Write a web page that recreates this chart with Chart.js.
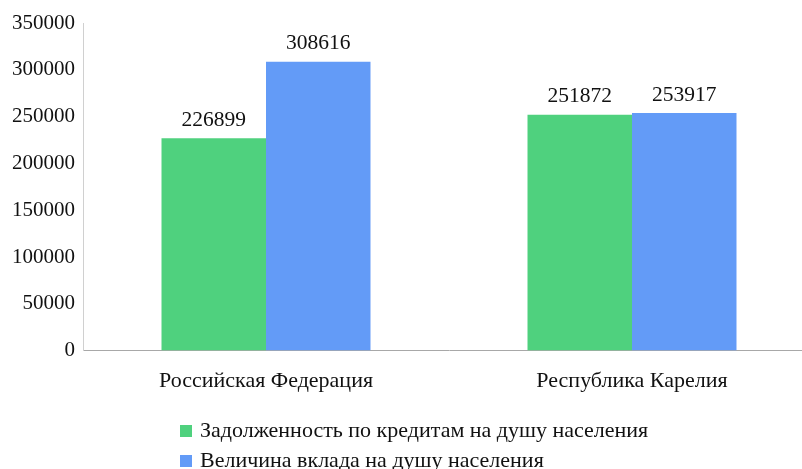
<!DOCTYPE html>
<html>
<head>
<meta charset="utf-8">
<script src="https://cdn.jsdelivr.net/npm/chart.js@4.4.0/dist/chart.umd.min.js"></script>
<style>
  html, body { margin: 0; padding: 0; background: #fff; overflow: hidden; }
  #wrap { width: 802px; height: 469px; overflow: hidden; }
</style>
</head>
<body>
<div id="wrap"><canvas id="barChart" width="820" height="469"></canvas></div>
<script>
// categories and series
var regions = ['Российская Федерация', 'Республика Карелия'];
var seriesNames = ['Задолженность по кредитам на душу населения', 'Величина вклада на душу населения'];
var debtPerCapita = [226899, 251872];
var depositPerCapita = [308616, 253917];
var yTicks = [0, 50000, 100000, 150000, 200000, 250000, 300000, 350000];

var FONT = '"Liberation Serif", "Times New Roman", serif';
var GREEN = '#4fd17e';
var BLUE = '#639bf7';

// value labels above each bar
var valueLabels = {
    id: 'valueLabels',
    afterDatasetsDraw: function(chart) {
        var ctx = chart.ctx;
        ctx.save();
        ctx.font = '21.5px ' + FONT;
        ctx.fillStyle = '#111';
        ctx.textAlign = 'center';
        ctx.textBaseline = 'middle';
        chart.data.datasets.forEach(function(ds, i) {
            chart.getDatasetMeta(i).data.forEach(function(bar, j) {
                ctx.fillText(String(ds.data[j]), bar.x, bar.y - 18);
            });
        });
        ctx.restore();
    }
};

// legend stacked one item per row under the axis
var stackedLegend = {
    id: 'stackedLegend',
    afterDraw: function(chart) {
        var ctx = chart.ctx;
        ctx.save();
        ctx.font = '22px ' + FONT;
        ctx.textBaseline = 'middle';
        ctx.textAlign = 'left';
        chart.data.datasets.forEach(function(ds, i) {
            var y = 431 + i * 30;
            ctx.fillStyle = ds.backgroundColor;
            ctx.fillRect(180, y - 6, 12, 12);
            ctx.fillStyle = '#111';
            ctx.fillText(ds.label, 200, y);
        });
        ctx.restore();
    }
};

var ctx = document.getElementById('barChart').getContext('2d');
new Chart(ctx, {
    type: 'bar',
    data: {
        labels: regions,
        datasets: [
            { label: seriesNames[0], data: debtPerCapita, backgroundColor: GREEN },
            { label: seriesNames[1], data: depositPerCapita, backgroundColor: BLUE }
        ]
    },
    options: {
        responsive: false,
        animation: false,
        categoryPercentage: 0.571,
        barPercentage: 1,
        layout: { padding: { top: 23, right: 5, bottom: 58, left: 0 } },
        plugins: {
            legend: { display: false },
            tooltip: { enabled: false }
        },
        scales: {
            x: {
                grid: { display: false, drawTicks: false },
                border: { display: true, color: '#a8a8a8', width: 1 },
                ticks: { color: '#111', padding: 17, font: { family: FONT, size: 22 } }
            },
            y: {
                min: 0,
                max: 350000,
                afterFit: function(scale) { scale.width = 83; },
                afterBuildTicks: function(scale) {
                    scale.ticks = yTicks.map(function(v) { return { value: v }; });
                },
                grid: { display: false, drawTicks: false },
                border: { display: true, color: '#d0d0d0', width: 1 },
                ticks: {
                    color: '#111',
                    padding: 8,
                    font: { family: FONT, size: 21 },
                    callback: function(v) { return String(v); }
                }
            }
        }
    },
    plugins: [valueLabels, stackedLegend]
});
</script>
</body>
</html>
